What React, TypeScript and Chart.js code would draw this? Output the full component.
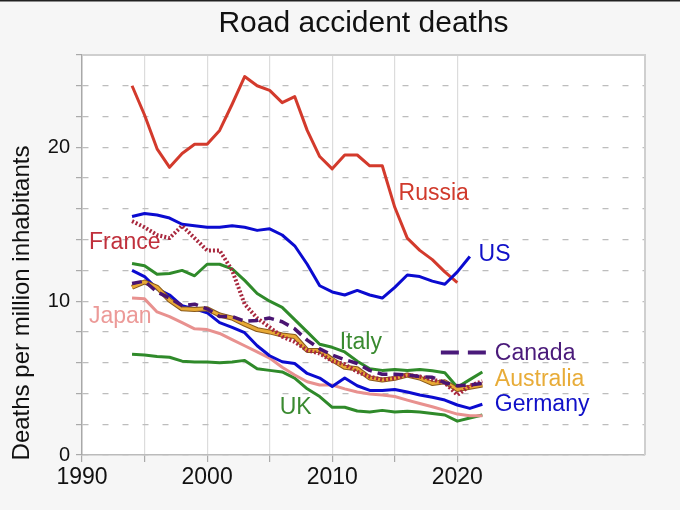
import React, { useEffect, useRef } from 'react';
import { Chart, registerables } from 'chart.js';

Chart.register(...registerables);

const FONT = '"Liberation Sans", Arial, Helvetica, sans-serif';

const years = [
  1994, 1995, 1996, 1997, 1998, 1999, 2000, 2001, 2002, 2003, 2004, 2005, 2006, 2007, 2008,
  2009, 2010, 2011, 2012, 2013, 2014, 2015, 2016, 2017, 2018, 2019, 2020, 2021, 2022,
];

// values per year starting 1994
const russia = [
  24.0, 22.1, 19.9, 18.7, 19.6, 20.2, 20.2, 21.1, 22.8, 24.6, 24.0, 23.7, 22.9, 23.3, 21.1,
  19.4, 18.6, 19.5, 19.5, 18.8, 18.8, 16.1, 14.1, 13.3, 12.7, 11.9, 11.2,
];
const us = [
  15.5, 15.7, 15.6, 15.4, 15.0, 14.9, 14.8, 14.8, 14.9, 14.8, 14.6, 14.7, 14.3, 13.6, 12.4,
  11.0, 10.6, 10.4, 10.7, 10.4, 10.2, 10.9, 11.7, 11.6, 11.3, 11.1, 11.9, 12.9,
];
const france = [
  15.2, 14.8, 14.3, 14.1, 14.9, 14.1, 13.3, 13.3, 12.0, 9.8, 8.9, 8.3, 7.7, 7.35, 6.8,
  6.6, 6.1, 5.9, 5.4, 5.1, 4.9, 5.0, 5.2, 5.1, 4.9, 4.7, 3.9, 4.5, 4.8,
];
const italy = [
  12.45, 12.3, 11.75, 11.8, 12.0, 11.65, 12.4, 12.4, 12.1, 11.35, 10.5, 10.0, 9.6, 8.8, 8.0,
  7.2, 7.0, 6.7, 6.1, 5.6, 5.5, 5.55, 5.5, 5.55, 5.47, 5.35, 4.4, 4.9, 5.4,
];
const uk = [
  6.55, 6.5, 6.4, 6.35, 6.1, 6.05, 6.05, 6.0, 6.05, 6.15, 5.6, 5.5, 5.4, 5.0, 4.3,
  3.8, 3.1, 3.1, 2.86, 2.8, 2.9, 2.8, 2.85, 2.8, 2.7, 2.6, 2.2, 2.4, 2.6,
];
const japan = [
  10.2, 10.15, 9.3, 9.0, 8.6, 8.2, 8.15, 7.9, 7.5, 7.1, 6.7, 6.3, 5.7, 5.2, 4.76,
  4.55, 4.55, 4.3, 4.1, 3.96, 3.9, 3.8, 3.57, 3.35, 3.14, 2.9, 2.66, 2.55, 2.55,
];
const germany = [
  12.0, 11.6, 10.8, 10.4, 9.7, 9.5, 9.25, 8.6, 8.3, 7.95, 7.1, 6.45, 6.06, 5.95, 5.3,
  5.0, 4.45, 5.0, 4.5, 4.2, 4.2, 4.26, 4.1, 3.9, 3.75, 3.57, 3.25, 3.03, 3.3,
];
const canada = [
  11.15, 11.3, 10.6, 10.2, 9.7, 9.8, 9.5, 9.0, 9.0, 8.7, 8.75, 8.9, 8.66, 8.2, 7.47,
  6.9, 6.5, 6.2, 5.95, 5.5, 5.25, 5.25, 5.2, 5.1, 5.05, 4.7, 4.5, 4.55, 4.65,
];
const australia = [
  10.9, 11.25, 10.9, 10.06, 9.5, 9.45, 9.5, 9.1, 8.9, 8.5, 8.15, 8.0, 7.8, 7.7, 6.8,
  6.8, 6.2, 5.7, 5.6, 5.0, 4.87, 4.98, 5.2, 5.0, 4.65, 4.76, 4.26, 4.4, 4.55,
];

const xTickLabels = [1990, 2000, 2010, 2020];
const yTickLabels = [0, 10, 20];

// direct labels, placed in data coordinates (year, value)
const lineLabels = [
  { text: 'Russia', x: 2015.3, y: 17.0, color: '#d03a2c' },
  { text: 'US', x: 2021.7, y: 13.05, color: '#1010c8' },
  { text: 'France', x: 1990.55, y: 13.8, color: '#c0303c' },
  { text: 'Japan', x: 1990.55, y: 9.0, color: '#ec9a98' },
  { text: 'Italy', x: 2010.6, y: 7.3, color: '#3a8a30' },
  { text: 'UK', x: 2005.8, y: 3.05, color: '#3a8a30' },
  { text: 'Canada', x: 2023.0, y: 6.6, color: '#4a1a7a', dash: true },
  { text: 'Australia', x: 2023.0, y: 4.9, color: '#e8ac38' },
  { text: 'Germany', x: 2023.0, y: 3.3, color: '#1010c8' },
];

const pts = (vals: number[]) => vals.map((v, i) => ({ x: years[i], y: v }));

const decorPlugin = {
  id: 'decor',
  beforeDraw(chart: any) {
    const { ctx, chartArea: a, width, height } = chart;
    ctx.save();
    ctx.fillStyle = '#f6f6f6';
    ctx.fillRect(0, 0, width, height);
    ctx.fillStyle = '#ffffff';
    ctx.fillRect(a.left, a.top, a.right - a.left, a.bottom - a.top);
    ctx.fillStyle = '#222';
    ctx.fillRect(0, 0, width, 1.5);
    ctx.restore();
  },
  beforeDatasetsDraw(chart: any) {
    const { ctx, chartArea: a } = chart;
    ctx.save();
    ctx.strokeStyle = '#cfcfcf';
    ctx.lineWidth = 2;
    ctx.beginPath();
    ctx.moveTo(a.left, a.top);
    ctx.lineTo(a.right, a.top);
    ctx.lineTo(a.right, a.bottom);
    ctx.stroke();
    ctx.restore();
  },
  afterDatasetsDraw(chart: any) {
    const { ctx, chartArea: a, scales } = chart;
    ctx.save();
    ctx.textBaseline = 'middle';
    ctx.textAlign = 'left';
    ctx.font = `23px ${FONT}`;
    lineLabels.forEach((l) => {
      const px = scales.x.getPixelForValue(l.x);
      const py = scales.y.getPixelForValue(l.y);
      ctx.fillStyle = l.color;
      ctx.fillText(l.text, px, py);
      if (l.dash) {
        ctx.strokeStyle = l.color;
        ctx.lineWidth = 4;
        ctx.setLineDash([18, 9]);
        ctx.beginPath();
        ctx.moveTo(px - 54, py - 1);
        ctx.lineTo(px - 9, py - 1);
        ctx.stroke();
        ctx.setLineDash([]);
      }
    });
    // title
    ctx.fillStyle = '#111';
    ctx.textAlign = 'center';
    ctx.font = `30px ${FONT}`;
    ctx.fillText('Road accident deaths', (a.left + a.right) / 2, 24);
    // y axis title
    ctx.translate(22, 303);
    ctx.rotate(-Math.PI / 2);
    ctx.font = `24px ${FONT}`;
    ctx.fillText('Deaths per million inhabitants', 0, 0);
    ctx.restore();
  },
};

const line = (data: number[], color: string, extra: any = {}) => ({
  data: pts(data),
  borderColor: color,
  borderWidth: 3,
  pointRadius: 0,
  tension: 0,
  fill: false,
  borderJoinStyle: 'round',
  ...extra,
});

const App = () => {
  const canvasRef = useRef<HTMLCanvasElement | null>(null);

  useEffect(() => {
    const ctx = canvasRef.current?.getContext('2d');
    if (!ctx) return;
    const chart = new Chart(ctx, {
      type: 'line',
      data: {
        datasets: [
          line(canada, '#4a1572', { borderDash: [10, 6], borderWidth: 3.5 }),
          line(france, '#a8283e', { borderDash: [2, 2], borderWidth: 4 }),
          line(australia, '#e8a935', { borderWidth: 3 }),
          line(australia, '#8a5a1a', { borderWidth: 5 }),
          line(germany, '#0b0bd0'),
          line(japan, '#e8918f'),
          line(uk, '#2f8a2a'),
          line(italy, '#2f8a2a'),
          line(us, '#0b0bd0'),
          line(russia, '#d33a2c'),
        ],
      },
      options: {
        responsive: false,
        animation: false,
        layout: { padding: { top: 55, right: 35, left: 0, bottom: 0 } },
        plugins: {
          legend: { display: false },
          tooltip: { enabled: false },
          title: { display: false },
        },
        scales: {
          x: {
            type: 'linear',
            min: 1990,
            max: 2035,
            afterFit: (s: any) => {
              s.height = 55;
            },
            ticks: {
              stepSize: 5,
              autoSkip: false,
              maxRotation: 0,
              padding: 2,
              color: '#111',
              font: { family: FONT, size: 23 },
              callback: (v: any) => (xTickLabels.includes(v) ? String(v) : ''),
            },
            grid: {
              color: (c: any) =>
                c.tick && c.tick.value > 1990 && c.tick.value <= 2020 ? '#dcdcdc' : 'rgba(0,0,0,0)',
              tickColor: (c: any) => (c.tick && c.tick.value <= 2020 ? '#aaaaaa' : 'rgba(0,0,0,0)'),
              tickLength: 7,
              lineWidth: 1.2,
            },
            border: { display: true, color: '#bbbbbb', width: 1.5 },
          },
          y: {
            min: 0,
            max: 26,
            afterFit: (s: any) => {
              s.width = 82;
            },
            ticks: {
              stepSize: 2,
              autoSkip: false,
              padding: 6,
              color: '#111',
              font: { family: FONT, size: 20 },
              callback: (v: any) => (yTickLabels.includes(v) ? String(v) : ''),
            },
            grid: {
              color: '#bdbdbd',
              tickColor: '#aaaaaa',
              tickLength: 6,
              lineWidth: 1.2,
            },
            border: { display: true, color: '#a8a8a8', width: 1.5, dash: [6, 14] },
          },
        },
      },
      plugins: [decorPlugin],
    } as any);
    return () => {
      chart.destroy();
    };
  }, []);

  return (
    <div style={{ position: 'fixed', left: 0, top: 0, width: 680, height: 510 }}>
      <canvas ref={canvasRef} width={680} height={510} style={{ width: 680, height: 510 }} />
    </div>
  );
};

export default App;
